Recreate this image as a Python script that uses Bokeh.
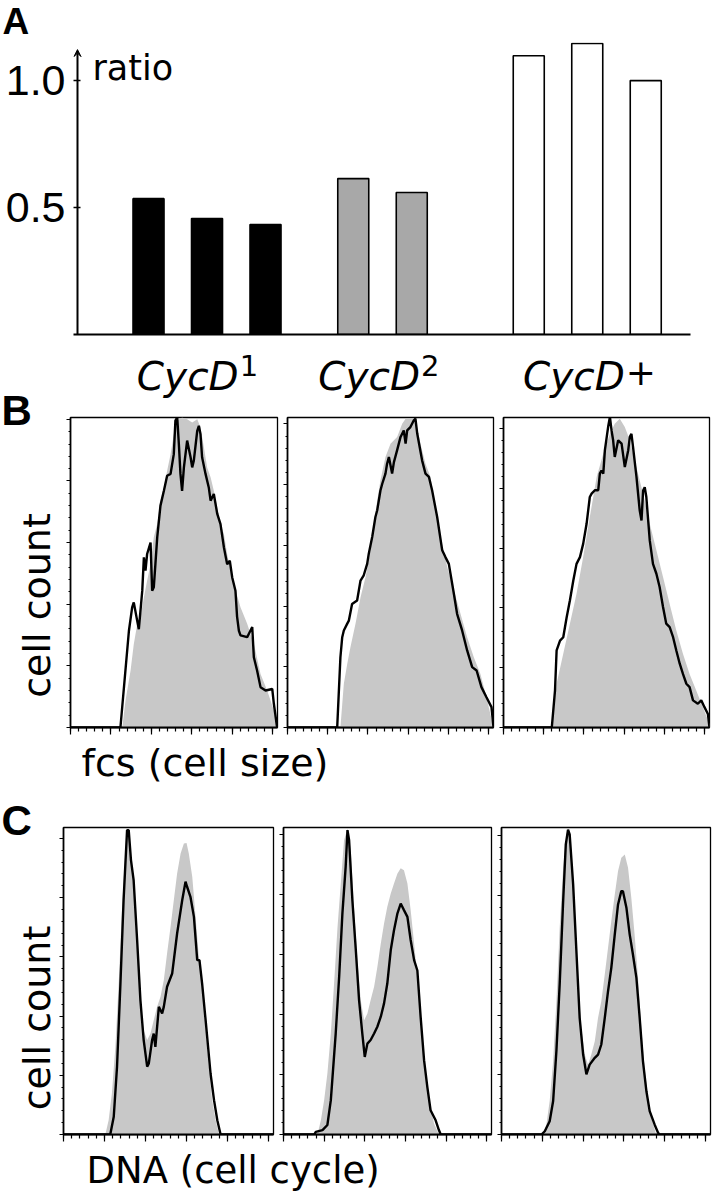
import math
from bokeh.plotting import figure
from bokeh.layouts import column, row
from bokeh.models import (Range1d, FixedTicker, NumeralTickFormatter, CustomJSTickFormatter,
                          Label, Arrow, VeeHead)
from bokeh.embed import file_html
from bokeh.resources import INLINE

# ---------------- data ----------------
groups = ["CycD", "CycD", "CycD"]
group_superscripts = ["1", "2", "+"]
ratio_cycd1 = [0.535, 0.457, 0.433]
ratio_cycd2 = [0.614, 0.559]
ratio_cycdplus = [1.098, 1.146, 1.0]
ratio_ticks = [0.5, 1.0]

# panel B: forward scatter histograms (channel, relative count)
fcs1_ctrl_ch = [256, 272, 297, 313, 330, 346, 363, 379, 396, 412, 429, 445, 462, 478, 495, 511, 528, 552, 577, 602,
                627, 643, 660, 676, 693, 709, 726, 742, 759, 775, 792, 808, 841, 874, 907, 940, 973, 1006, 1022]
fcs1_ctrl = [0, 0.087, 0.184, 0.27, 0.335, 0.357, 0.422, 0.476, 0.53, 0.617, 0.66, 0.736, 0.779, 0.833, 0.887, 0.952,
             0.996, 1.006, 1.0, 0.99, 1.0, 0.974, 0.909, 0.844, 0.812, 0.768, 0.714, 0.66, 0.628, 0.563, 0.509, 0.465,
             0.39, 0.337, 0.272, 0.174, 0.12, 0.055, 0]
fcs1_mut_ch = [0, 247, 289, 305, 313, 330, 338, 355, 363, 371, 379, 396, 404, 412, 420, 429, 445, 462, 478, 495, 511,
               519, 528, 536, 544, 552, 561, 577, 594, 602, 610, 627, 635, 643, 651, 668, 684, 693, 709, 726, 742, 759,
               775, 788, 800, 816, 824, 833, 841, 874, 899, 907, 923, 940, 965, 998, 1006, 1022, 1024]
fcs1_mut = [0, 0, 0.314, 0.39, 0.406, 0.346, 0.319, 0.444, 0.552, 0.509, 0.563, 0.60, 0.444, 0.455, 0.53, 0.617, 0.72,
            0.768, 0.817, 0.823, 0.887, 0.996, 1.006, 0.92, 0.823, 0.768, 0.844, 0.931, 0.877, 0.844, 0.866, 0.963,
            0.979, 0.952, 0.877, 0.823, 0.779, 0.736, 0.758, 0.693, 0.66, 0.584, 0.53, 0.541, 0.487, 0.444, 0.36,
            0.314, 0.299, 0.293, 0.326, 0.228, 0.185, 0.131, 0.12, 0.125, 0.077, 0, 0]

fcs2_ctrl_ch = [263, 280, 297, 313, 338, 363, 388, 413, 429, 446, 462, 487, 512, 545, 570, 587, 611, 636, 661, 686,
                711, 736, 761, 794, 827, 860, 893, 926, 959, 989, 1024]
fcs2_ctrl = [0, 0.142, 0.207, 0.261, 0.337, 0.423, 0.488, 0.575, 0.661, 0.737, 0.802, 0.878, 0.921, 0.943, 0.986,
             1.002, 1.002, 1.002, 0.921, 0.856, 0.813, 0.715, 0.618, 0.521, 0.445, 0.369, 0.293, 0.228, 0.174, 0.098, 0]
fcs2_mut_ch = [0, 247, 263, 272, 280, 297, 305, 321, 346, 363, 379, 396, 404, 421, 437, 446, 462, 471, 487, 495, 504,
               520, 529, 545, 562, 578, 587, 595, 611, 628, 636, 645, 669, 686, 703, 719, 744, 769, 785, 802, 827, 843,
               868, 893, 918, 940, 964, 989, 1014, 1024]
fcs2_mut = [0, 0, 0.228, 0.293, 0.315, 0.337, 0.347, 0.401, 0.412, 0.477, 0.494, 0.531, 0.564, 0.618, 0.683, 0.705,
            0.769, 0.791, 0.824, 0.856, 0.878, 0.824, 0.861, 0.9, 0.943, 0.964, 0.921, 0.964, 0.975, 0.997, 1.002,
            0.953, 0.867, 0.824, 0.813, 0.769, 0.683, 0.575, 0.553, 0.531, 0.434, 0.369, 0.315, 0.25, 0.196, 0.185,
            0.131, 0.098, 0.066, 0]

fcs3_ctrl_ch = [240, 264, 297, 330, 363, 396, 429, 463, 496, 529, 553, 578, 603, 628, 652, 677, 702, 727, 760, 793,
                826, 859, 892, 925, 958, 991, 1024]
fcs3_ctrl = [0, 0.142, 0.239, 0.337, 0.434, 0.553, 0.683, 0.813, 0.889, 0.953, 0.986, 1.002, 0.975, 0.932, 0.867,
             0.802, 0.737, 0.661, 0.575, 0.488, 0.401, 0.315, 0.239, 0.174, 0.12, 0.066, 0.011]
fcs3_mut_ch = [0, 240, 256, 264, 281, 297, 314, 330, 347, 363, 380, 396, 413, 429, 438, 454, 471, 479, 487, 496, 504,
               520, 529, 537, 545, 553, 570, 587, 603, 620, 628, 636, 644, 661, 677, 686, 694, 702, 710, 727, 743, 760,
               776, 793, 809, 826, 843, 859, 876, 892, 909, 925, 942, 966, 983, 999, 1016, 1024]
fcs3_mut = [0, 0, 0.12, 0.25, 0.282, 0.293, 0.358, 0.412, 0.477, 0.531, 0.553, 0.596, 0.661, 0.748, 0.759, 0.77, 0.77,
            0.824, 0.834, 0.824, 0.9, 0.975, 1.008, 0.964, 0.932, 0.878, 0.932, 0.921, 0.845, 0.9, 0.943, 0.953, 0.91,
            0.813, 0.705, 0.672, 0.769, 0.78, 0.748, 0.607, 0.531, 0.499, 0.456, 0.391, 0.337, 0.326, 0.293, 0.25,
            0.207, 0.174, 0.142, 0.131, 0.088, 0.077, 0.088, 0.066, 0.044, 0]

# panel C: DNA content histograms (channel, relative count)
dna1_ctrl_ch = [204, 220, 236, 253, 269, 285, 302, 313, 326, 342, 359, 375, 391, 408, 424, 440, 456, 473, 489, 505,
                522, 538, 554, 571, 587, 600, 611, 628, 644, 660, 676, 693, 709, 725, 742, 758]
dna1_ctrl = [0, 0.048, 0.139, 0.296, 0.51, 0.758, 0.961, 1.034, 0.961, 0.837, 0.623, 0.454, 0.352, 0.319, 0.341,
             0.386, 0.431, 0.465, 0.521, 0.611, 0.702, 0.792, 0.882, 0.949, 0.983, 0.985, 0.949, 0.87, 0.735, 0.6,
             0.488, 0.364, 0.229, 0.116, 0.048, 0]
dna1_mut_ch = [0, 228, 245, 261, 277, 293, 310, 318, 329, 342, 359, 375, 391, 408, 416, 432, 440, 448, 465, 481, 489,
               505, 530, 554, 579, 595, 603, 619, 636, 652, 663, 676, 693, 717, 734, 750, 766, 1024]
dna1_mut = [0, 0, 0.06, 0.229, 0.499, 0.792, 1.028, 1.028, 0.927, 0.859, 0.657, 0.454, 0.319, 0.229, 0.24, 0.319,
            0.341, 0.296, 0.431, 0.409, 0.431, 0.499, 0.544, 0.679, 0.792, 0.854, 0.836, 0.803, 0.735, 0.589, 0.589,
            0.51, 0.386, 0.206, 0.116, 0.048, 0, 0]

dna2_ctrl_ch = [167, 184, 200, 216, 233, 249, 266, 282, 298, 315, 331, 347, 364, 380, 397, 413, 429, 446, 462, 479,
                495, 511, 528, 544, 561, 577, 593, 610, 626, 643, 659, 675, 692, 708, 724, 741, 765]
dna2_ctrl = [0, 0.048, 0.116, 0.206, 0.341, 0.51, 0.702, 0.848, 0.994, 1.034, 0.961, 0.769, 0.589, 0.454, 0.386,
             0.409, 0.454, 0.499, 0.566, 0.645, 0.713, 0.769, 0.814, 0.848, 0.882, 0.899, 0.893, 0.848, 0.758, 0.645,
             0.533, 0.398, 0.262, 0.161, 0.093, 0.037, 0]
dna2_mut_ch = [0, 151, 159, 192, 216, 233, 257, 274, 290, 306, 315, 323, 339, 356, 372, 388, 400, 413, 429, 446, 462,
               479, 495, 511, 528, 544, 561, 577, 593, 610, 626, 643, 659, 675, 692, 708, 724, 749, 765, 774, 1024]
dna2_mut = [0, 0, 0.009, 0.015, 0.032, 0.116, 0.341, 0.533, 0.747, 0.904, 1.028, 0.994, 0.792, 0.623, 0.454, 0.341,
            0.262, 0.307, 0.319, 0.341, 0.364, 0.398, 0.443, 0.51, 0.623, 0.69, 0.747, 0.78, 0.758, 0.735, 0.657,
            0.589, 0.554, 0.398, 0.251, 0.161, 0.082, 0.048, 0.015, 0, 0]

dna3_ctrl_ch = [204, 220, 236, 253, 269, 285, 302, 318, 326, 343, 359, 375, 391, 408, 424, 440, 457, 473, 489, 506,
                522, 538, 555, 571, 587, 604, 620, 636, 652, 669, 685, 701, 718, 734, 758]
dna3_ctrl = [0, 0.034, 0.113, 0.248, 0.45, 0.698, 0.901, 1.014, 1.03, 0.957, 0.732, 0.507, 0.36, 0.27, 0.236, 0.27,
             0.315, 0.394, 0.45, 0.541, 0.631, 0.721, 0.811, 0.89, 0.935, 0.946, 0.901, 0.8, 0.676, 0.529, 0.36,
             0.225, 0.124, 0.056, 0]
dna3_mut_ch = [0, 196, 212, 236, 253, 269, 285, 302, 315, 326, 334, 351, 367, 383, 400, 416, 432, 457, 473, 489, 506,
               522, 538, 555, 571, 587, 595, 612, 628, 644, 661, 677, 693, 710, 726, 750, 767, 775, 1024]
dna3_mut = [0, 0, 0.011, 0.045, 0.113, 0.282, 0.507, 0.788, 0.98, 1.03, 1.014, 0.845, 0.619, 0.394, 0.27, 0.203,
            0.236, 0.259, 0.27, 0.304, 0.394, 0.484, 0.563, 0.676, 0.777, 0.822, 0.822, 0.766, 0.676, 0.608, 0.529,
            0.394, 0.248, 0.146, 0.079, 0.034, 0.006, 0, 0]

channel_major = [0, 200, 400, 600, 800, 1000]
channel_minor = list(range(0, 1024, 40))

# ---------------- style / layout ----------------
LABEL_FONT = "DejaVu Sans"
NUM_FONT = "Liberation Sans"
GREY_FILL = "#c8c8c8"
BAR_FILLS = ["black", "#a8a8a8", "white"]
group_first_lane = [1.0, 4.5, 7.5]
label_joint = [2.54, 5.64, 9.14]
sup_y = [35, 35, 29]
sup_size = ["29px", "29px", "36px"]
PAGE_W = 715
LEFT_W = 58                      # strip holding "B", "C" and the rotated "cell count" labels
RIGHT_W = PAGE_W - LEFT_W


def lbl(x, y, text, size, font=LABEL_FONT, style="normal", align="left", angle=0.0):
    # (x, y) is the vertical centre of the text box
    return Label(x=x, y=y, text=text, text_font=font, text_font_size=size, text_font_style=style,
                 text_align=align, text_baseline="middle", text_color="black", angle=angle)


def text_strip(width, height, x_range=None, bl=0, br=0):
    s = figure(width=width, height=height,
               x_range=x_range if x_range is not None else Range1d(0, width), y_range=Range1d(0, height),
               toolbar_location=None, output_backend="svg", x_axis_location=None, y_axis_location=None,
               min_border_left=bl, min_border_right=br, min_border_top=0, min_border_bottom=0)
    s.outline_line_color = None
    s.grid.visible = False
    return s


# ---------------- panel A ----------------
X0, X1 = -0.214, 10.265          # lane coordinates at the y axis and at the right end of the baseline
XS = X0 - 4 / 58.5               # frame starts a few px left of the y axis
pa = figure(width=PAGE_W, height=298, x_range=Range1d(XS, X1), y_range=Range1d(0, 1.15),
            toolbar_location=None, output_backend="svg",
            min_border_left=73, min_border_right=PAGE_W - 690, min_border_top=0, min_border_bottom=6)
pa.outline_line_color = None
pa.grid.visible = False
for g, (vals, fill) in enumerate(zip([ratio_cycd1, ratio_cycd2, ratio_cycdplus], BAR_FILLS)):
    lanes = [group_first_lane[g] + i for i in range(len(vals))]
    pa.vbar(x=lanes, top=vals, width=0.53, fill_color=fill, line_color="black", line_width=1.6)

xa = pa.xaxis[0]
xa.ticker = FixedTicker(ticks=[])
xa.axis_line_width = 2
xa.major_tick_out = 0
xa.major_tick_in = 0
xa.major_label_standoff = 0
xa.major_tick_line_color = None
xa.minor_tick_line_color = None

ya = pa.yaxis[0]
ya.ticker = FixedTicker(ticks=ratio_ticks, minor_ticks=[])
ya.formatter = NumeralTickFormatter(format="0.0")
ya.axis_line_color = None
ya.major_tick_in = 7
ya.major_tick_out = 0
ya.major_tick_line_width = 1.5
ya.minor_tick_line_color = None
ya.major_label_text_font = NUM_FONT
ya.major_label_text_font_size = "43px"
ya.major_label_text_color = "black"
ya.major_label_standoff = 8

pa.add_layout(Arrow(x_start=X0, y_start=0, x_end=X0, y_end=1.122, line_width=2, line_color="black",
                    end=VeeHead(size=7, fill_color="black", line_color="black", line_width=1)))
pa.add_layout(lbl(0.042, 1.048, "ratio", "35px"))

strip_a = text_strip(PAGE_W, 42)
strip_a.add_layout(lbl(2, 21, "A", "37px", font=NUM_FONT, style="bold"))

strip_cat = text_strip(RIGHT_W, 60, x_range=pa.x_range, bl=73 - LEFT_W, br=PAGE_W - 690)
for g in range(3):
    strip_cat.add_layout(lbl(label_joint[g], 24.5, groups[g], "39px", style="italic", align="right"))
    strip_cat.add_layout(lbl(label_joint[g] + 0.02, sup_y[g], group_superscripts[g], sup_size[g]))


# ---------------- flow panels ----------------
def flow_panel(width, bl, br, height, bt, bb, y_top, y_step, ctrl_x, ctrl_y, mut_x, mut_y):
    p = figure(width=width, height=height, x_range=Range1d(0, 1024), y_range=Range1d(0, y_top),
               toolbar_location=None, output_backend="svg",
               min_border_left=bl, min_border_right=br, min_border_top=bt, min_border_bottom=bb)
    p.grid.visible = False
    p.outline_line_color = "black"
    p.outline_line_width = 1.3
    p.varea(x=ctrl_x, y1=0, y2=ctrl_y, fill_color=GREY_FILL)
    p.line(x=mut_x, y=mut_y, line_color="black", line_width=2.4)

    ax = p.xaxis[0]
    ax.ticker = FixedTicker(ticks=channel_major, minor_ticks=channel_minor)
    ax.formatter = CustomJSTickFormatter(code="return ''")
    ax.major_label_text_font_size = "1px"
    ax.major_label_standoff = 0
    ax.axis_line_width = 2
    ax.major_tick_in = 0
    ax.major_tick_out = 7
    ax.minor_tick_in = 0
    ax.minor_tick_out = 4
    ax.major_tick_line_width = 1.2
    ax.minor_tick_line_width = 1.2

    ay = p.yaxis[0]
    ay.ticker = FixedTicker(ticks=[round(i * y_step, 4) for i in range(6)],
                            minor_ticks=[round(i * y_step / 5, 4) for i in range(26)])
    ay.formatter = CustomJSTickFormatter(code="return ''")
    ay.major_label_text_font_size = "1px"
    ay.major_label_standoff = 0
    ay.axis_line_width = 1.6
    ay.major_tick_in = 0
    ay.major_tick_out = 4
    ay.minor_tick_in = 0
    ay.minor_tick_out = 2
    ay.major_tick_line_width = 1.2
    ay.minor_tick_line_width = 1.2
    return p


B_H, B_T, B_B, B_TOP = 340, 17, 13, 1.006
b1 = flow_panel(224, 12, 5, B_H, B_T, B_B, B_TOP, 0.2, fcs1_ctrl_ch, fcs1_ctrl, fcs1_mut_ch, fcs1_mut)
b2 = flow_panel(216, 5, 5, B_H, B_T, B_B, B_TOP, 0.197, fcs2_ctrl_ch, fcs2_ctrl, fcs2_mut_ch, fcs2_mut)
b3 = flow_panel(217, 5, 6, B_H, B_T, B_B, B_TOP, 0.194, fcs3_ctrl_ch, fcs3_ctrl, fcs3_mut_ch, fcs3_mut)
strip_b = text_strip(RIGHT_W, 60)
strip_b.add_layout(lbl(81 - LEFT_W, 37.5, "fcs (cell size)", "38px"))

C_H, C_T, C_B, C_TOP = 345, 27, 11, 1.037
c1 = flow_panel(220, 5, 5, C_H, C_T, C_B, C_TOP, 0.2, dna1_ctrl_ch, dna1_ctrl, dna1_mut_ch, dna1_mut)
c2 = flow_panel(218, 5, 5, C_H, C_T, C_B, C_TOP, 0.203, dna2_ctrl_ch, dna2_ctrl, dna2_mut_ch, dna2_mut)
c3 = flow_panel(219, 5, 5, C_H, C_T, C_B, C_TOP, 0.2017, dna3_ctrl_ch, dna3_ctrl, dna3_mut_ch, dna3_mut)
strip_c = text_strip(RIGHT_W, 54)
strip_c.add_layout(lbl(86 - LEFT_W, 28.8, "DNA (cell cycle)", "37px"))

LEFT_H = 60 + B_H + 60 + C_H + 54      # page y 340 .. 1199
left_strip = text_strip(LEFT_W, LEFT_H)
left_strip.add_layout(lbl(1, LEFT_H - 70.4, "B", "42px", font=NUM_FONT, style="bold"))
left_strip.add_layout(lbl(36, LEFT_H - 265, "cell count", "38px", align="center", angle=math.pi / 2))
left_strip.add_layout(lbl(1, LEFT_H - 480.4, "C", "42px", font=NUM_FONT, style="bold"))
left_strip.add_layout(lbl(36, LEFT_H - 677.5, "cell count", "38px", align="center", angle=math.pi / 2))

right_col = column(row(strip_cat), row(b1, b2, b3), row(strip_b), row(c1, c2, c3), row(strip_c))
layout = column(row(strip_a), pa, row(left_strip, right_col))
open("out.html", "w").write(file_html(layout, INLINE, "Cyclin D ratio and flow cytometry"))
